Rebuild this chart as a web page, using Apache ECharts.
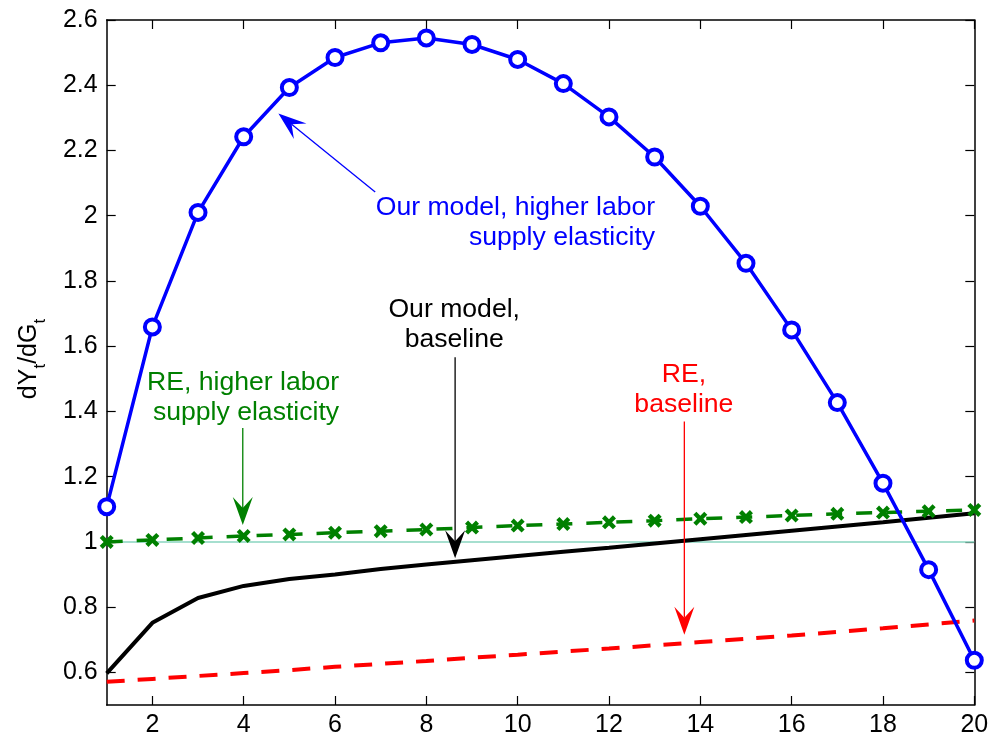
<!DOCTYPE html>
<html><head><meta charset="utf-8">
<script src="https://cdn.jsdelivr.net/npm/echarts@6/dist/echarts.min.js"></script>
<style>html,body{margin:0;padding:0;background:#fff}#c{width:995px;height:744px}</style>
</head><body><div id="c"></div>
<script>
// ---- data ----
const periods = [1,2,3,4,5,6,7,8,9,10,11,12,13,14,15,16,17,18,19,20];
const ourModelHigher = [1.108,1.659,2.010,2.242,2.393,2.485,2.530,2.545,2.525,2.479,2.405,2.303,2.180,2.029,1.854,1.650,1.427,1.180,0.915,0.637];
const reHigher = [1.000,1.006,1.012,1.018,1.023,1.028,1.033,1.038,1.044,1.050,1.055,1.060,1.065,1.071,1.076,1.081,1.086,1.090,1.094,1.098];
const ourModelBaseline = [0.597,0.752,0.828,0.865,0.886,0.900,0.917,0.931,0.944,0.957,0.970,0.982,0.995,1.008,1.021,1.034,1.047,1.060,1.074,1.088];
const reBaseline = [0.571,0.580,0.589,0.598,0.607,0.617,0.626,0.635,0.645,0.654,0.664,0.673,0.683,0.693,0.703,0.713,0.724,0.735,0.747,0.759];
const xTicks = [2,4,6,8,10,12,14,16,18,20];
const yTicks = [0.6,0.8,1,1.2,1.4,1.6,1.8,2,2.2,2.4,2.6];
const refLevel = 1;

const FONT = "'Liberation Sans', Arial, Helvetica, sans-serif";
const BLUE = '#0000ff', GREEN = '#008000', RED = '#ff0000', BLACK = '#000000', TEAL = '#88d4bf';

const chart = echarts.init(document.getElementById('c'), null, {renderer: 'canvas'});
const pairs = arr => periods.map((x, i) => [x, arr[i]]);

const axisLine = {show: true, onZero: false, lineStyle: {color: '#000', width: 1.5}};
const tickStyle = {color: '#000', width: 1.2};

const xSymbol = 'path://M0,2.2 L2.2,0 L5,2.8 L7.8,0 L10,2.2 L7.2,5 L10,7.8 L7.8,10 L5,7.2 L2.2,10 L0,7.8 L2.8,5 Z';

chart.setOption({
  animation: false,
  backgroundColor: '#fff',
  grid: {left: 106.7, right: 20.7, top: 20, bottom: 39},
  xAxis: [
    {type: 'value', min: 1, max: 20, axisLine,
     axisTick: {show: true, inside: true, length: 9, customValues: xTicks, lineStyle: tickStyle},
     axisLabel: {show: true, customValues: xTicks, color: '#000', fontSize: 25, fontFamily: FONT, margin: 8},
     splitLine: {show: false}},
    {type: 'value', position: 'top', min: 1, max: 20, axisLine,
     axisTick: {show: true, inside: true, length: 9, customValues: xTicks, lineStyle: tickStyle},
     axisLabel: {show: false}, splitLine: {show: false}}
  ],
  yAxis: [
    {type: 'value', min: 0.5, max: 2.6, axisLine,
     axisTick: {show: true, inside: true, length: 9, customValues: yTicks, lineStyle: tickStyle},
     axisLabel: {show: true, customValues: yTicks, color: '#000', fontSize: 25, fontFamily: FONT, margin: 9,
                 formatter: v => String(+(+v).toFixed(1))},
     splitLine: {show: false}},
    {type: 'value', position: 'right', min: 0.5, max: 2.6, axisLine,
     axisTick: {show: true, inside: true, length: 9, customValues: yTicks, lineStyle: tickStyle},
     axisLabel: {show: false}, splitLine: {show: false}}
  ],
  series: [
    {name: 'RE, baseline', type: 'line', data: pairs(reBaseline), showSymbol: false, z: 2,
     lineStyle: {color: RED, width: 4, type: [18, 13]},
     markLine: {silent: true, symbol: ['none', 'none'], label: {show: false}, z: 1,
                lineStyle: {color: TEAL, width: 1.6, type: 'solid'}, data: [{yAxis: refLevel}]}},
    {name: 'Our model, baseline', type: 'line', data: pairs(ourModelBaseline), showSymbol: false, z: 3,
     lineStyle: {color: BLACK, width: 4}},
    {name: 'RE, higher labor supply elasticity', type: 'line', data: pairs(reHigher), z: 4,
     symbol: xSymbol, symbolSize: 14, showSymbol: true,
     itemStyle: {color: GREEN, borderWidth: 0},
     lineStyle: {color: GREEN, width: 3.5, type: [16, 14]}},
    {name: 'Our model, higher labor supply elasticity', type: 'line', data: pairs(ourModelHigher), z: 5,
     symbol: 'circle', symbolSize: 15, showSymbol: true,
     itemStyle: {color: '#ffffff', borderColor: BLUE, borderWidth: 4},
     lineStyle: {color: BLUE, width: 3.5}}
  ]
});

// ---- annotations (in data coordinates) ----
const annotations = [
  {color: BLUE, align: 'right', anchor: [13.01, 1.997], lines: ['Our model, higher labor', 'supply elasticity'],
   tail: [6.88, 2.073], tip: [4.76, 2.313]},
  {color: BLACK, align: 'center', anchor: [8.61, 1.682], lines: ['Our model,', 'baseline'],
   tail: [8.63, 1.566], tip: [8.63, 0.950]},
  {color: GREEN, align: 'right', anchor: [6.09, 1.461], lines: ['RE, higher labor', 'supply elasticity'],
   tail: [3.98, 1.349], tip: [3.98, 1.052]},
  {color: RED, align: 'center', anchor: [13.64, 1.484], lines: ['RE,', 'baseline'],
   tail: [13.65, 1.369], tip: [13.65, 0.715]}
];

function draw() {
  const conv = p => chart.convertToPixel({gridIndex: 0}, p);
  const g = [];
  const AFS = 26.6;
  annotations.forEach(a => {
    const [ax, ay] = conv(a.anchor);
    a.lines.forEach((t, i) => {
      g.push({type: 'text', silent: true, z: 100,
        style: {text: t, x: ax, y: ay + i * 30 - 0.35 * AFS, fill: a.color,
                font: AFS + 'px ' + FONT, textAlign: a.align, textVerticalAlign: 'middle',
                align: a.align, verticalAlign: 'middle'}});
    });
    const [x0, y0] = conv(a.tail), [x1, y1] = conv(a.tip);
    const dx = x1 - x0, dy = y1 - y0, L = Math.hypot(dx, dy);
    const ux = dx / L, uy = dy / L, nx = -uy, ny = ux;
    const len = 28, half = 10, notch = 17;
    const bx = x1 - ux * len, by = y1 - uy * len;
    const mx = x1 - ux * notch, my = y1 - uy * notch;
    g.push({type: 'line', silent: true, z: 100,
      shape: {x1: x0, y1: y0, x2: mx, y2: my}, style: {stroke: a.color, lineWidth: 1.3}});
    g.push({type: 'polygon', silent: true, z: 100,
      shape: {points: [[x1, y1], [bx + nx * half, by + ny * half], [mx, my], [bx - nx * half, by - ny * half]]},
      style: {fill: a.color}});
  });

  // y axis title: dY_t/dG_t, rotated
  const ctx = document.createElement('canvas').getContext('2d');
  const parts = [['dY', 25, 0], ['t', 17, 11], ['/dG', 25, 0], ['t', 17, 11]];
  const widths = parts.map(p => { ctx.font = p[1] + 'px ' + FONT; return ctx.measureText(p[0]).width; });
  const W = widths.reduce((s, w) => s + w, 0);
  let cx = -W / 2;
  const kids = parts.map((p, i) => {
    const el = {type: 'text', silent: true,
      style: {text: p[0], x: cx, y: p[2], fill: '#000', font: p[1] + 'px ' + FONT,
              textAlign: 'left', textVerticalAlign: 'middle', align: 'left', verticalAlign: 'middle'}};
    cx += widths[i];
    return el;
  });
  g.push({type: 'group', x: 29, y: 359, rotation: Math.PI / 2, children: kids});

  chart.setOption({graphic: g});
}
draw();
</script>
</body></html>
